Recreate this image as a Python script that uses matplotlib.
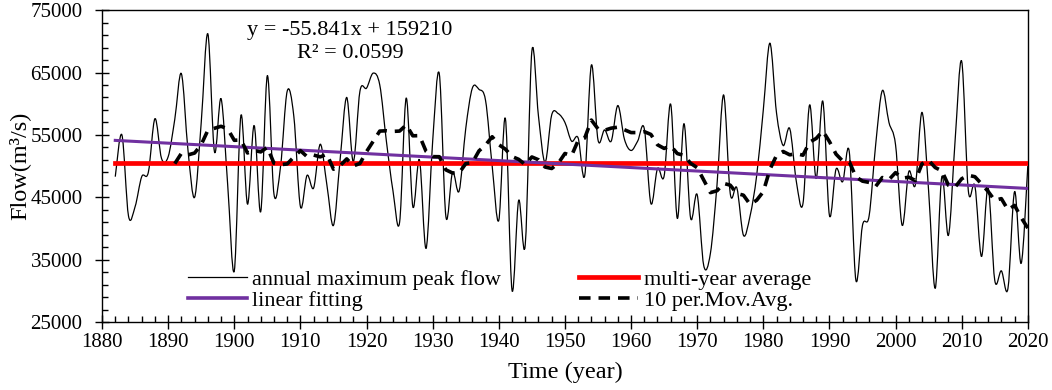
import matplotlib
matplotlib.use("Agg")
import matplotlib.pyplot as plt
from matplotlib.path import Path
from matplotlib.patches import PathPatch
from matplotlib.lines import Line2D
import numpy as np
import pandas as pd

plt.rcParams['font.family'] = ['Liberation Serif', 'DejaVu Serif']

years = list(range(1882, 2021))
flow = [
    48300, 55000, 42000, 43500, 48300, 49000, 57600, 51200, 51500, 57500,  # 1882-1891
    64800, 52500, 45000, 57000, 71200, 52300, 60800, 47000, 33200, 58100,  # 1892-1901
    43900, 56500, 42700, 64500, 45500, 50000, 62000, 58000, 43500, 48500,  # 1902-1911
    46500, 53500, 47000, 40500, 51000, 61000, 50700, 62000, 62500, 64900,  # 1912-1921
    63000, 54000, 46000, 41000, 60900, 43500, 51000, 36800, 54000, 64800,  # 1922-1931
    41900, 49000, 46000, 56000, 62500, 62300, 60500, 50000, 41300, 57600,  # 1932-1941
    30100, 44500, 37400, 68400, 58000, 50600, 58200, 58400, 57000, 54000,  # 1942-1951
    54500, 48500, 66200, 54200, 55800, 54000, 59700, 54300, 52500, 54000,  # 1952-1961
    56000, 44000, 49600, 48400, 59900, 41600, 56800, 41700, 45400, 34000,  # 1962-1971
    36000, 47000, 61400, 45600, 46500, 38900, 42000, 48500, 59000, 69700,  # 1972-1981
    58500, 53300, 56000, 47500, 44000, 59800, 48000, 60400, 42100, 49500,  # 1982-1991
    47500, 52300, 31700, 40500, 42000, 53500, 62100, 57000, 53400, 40500,  # 1992-2001
    49100, 47000, 58600, 46000, 30400, 48300, 38900, 54000, 66800, 46100,  # 2002-2011
    46800, 35500, 46500, 31700, 33200, 30400, 45900, 34400, 50000,         # 2012-2020
]
fit_slope = -55.841
fit_intercept = 159210
mov_window = 10

x = np.array(years, dtype=float)
y = np.array(flow, dtype=float)
avg = y.mean()
mov = pd.Series(y).rolling(mov_window).mean()

fig = plt.figure(figsize=(10.52, 3.9), dpi=100)
ax = fig.add_axes([0.097, 0.1744, 0.88, 0.7996])

# smoothed line like excel (bezier through the points)
verts = [(x[0], y[0])]
codes = [Path.MOVETO]
n = len(x)
for i in range(n - 1):
    p0 = np.array([x[max(i - 1, 0)], y[max(i - 1, 0)]])
    p1 = np.array([x[i], y[i]])
    p2 = np.array([x[i + 1], y[i + 1]])
    p3 = np.array([x[min(i + 2, n - 1)], y[min(i + 2, n - 1)]])
    c1 = p1 + (p2 - p0) / 6.0
    c2 = p2 - (p3 - p1) / 6.0
    verts += [tuple(c1), tuple(c2), tuple(p2)]
    codes += [Path.CURVE4] * 3
ax.add_patch(PathPatch(Path(verts, codes), facecolor='none', edgecolor='black', lw=0.9, zorder=3))

ax.plot([x[0], x[-1]], [avg, avg], color='#FF0000', lw=3.4, zorder=4)
ax.plot(x, fit_slope * x + fit_intercept, color='#7030A0', lw=2.2, zorder=5)
ax.plot(x, mov, color='black', lw=2.6, ls=(0, (3.2, 2.2)), zorder=6)

ax.set_xlim(1880, 2020)
ax.set_ylim(25000, 75000)
ax.set_xticks(range(1880, 2021, 10))
ax.set_xticks(range(1880, 2021, 2), minor=True)
ax.set_yticks(range(25000, 75001, 10000))
ax.set_yticks(range(25000, 75001, 2000), minor=True)
ax.tick_params(which='major', direction='inout', length=10, width=1, labelsize=15)
ax.tick_params(axis='y', which='major', pad=9)
ax.tick_params(axis='x', which='major', pad=3)
ax.tick_params(which='minor', direction='in', length=4.5, width=1)
for s in ax.spines.values():
    s.set_linewidth(1)

ax.set_xlabel('Time (year)', fontsize=17.5, labelpad=7)
ax.set_ylabel('Flow(m³/s)', fontsize=17.5, labelpad=0)

ax.text(0.268, 0.936, 'y = -55.841x + 159210', transform=ax.transAxes,
        ha='center', va='center', fontsize=16)
ax.text(0.268, 0.862, 'R² = 0.0599', transform=ax.transAxes,
        ha='center', va='center', fontsize=16)

handles = [
    Line2D([], [], color='black', lw=0.9),
    Line2D([], [], color='#7030A0', lw=2.6),
    Line2D([], [], color='#FF0000', lw=3.4),
    Line2D([], [], color='black', lw=2.6, ls=(0, (3.2, 2.2))),
]
labels = ['annual maximum peak flow', 'linear fitting', 'multi-year average', '10 per.Mov.Avg.']
ax.legend(handles, labels, ncol=2, loc='upper left', bbox_to_anchor=(0.0929, 0.170),
          frameon=False, fontsize=16, handlelength=2.65, columnspacing=3.5,
          labelspacing=0.04, handletextpad=0.25, borderpad=0, borderaxespad=0)

fig.savefig('out.png', dpi=100)
